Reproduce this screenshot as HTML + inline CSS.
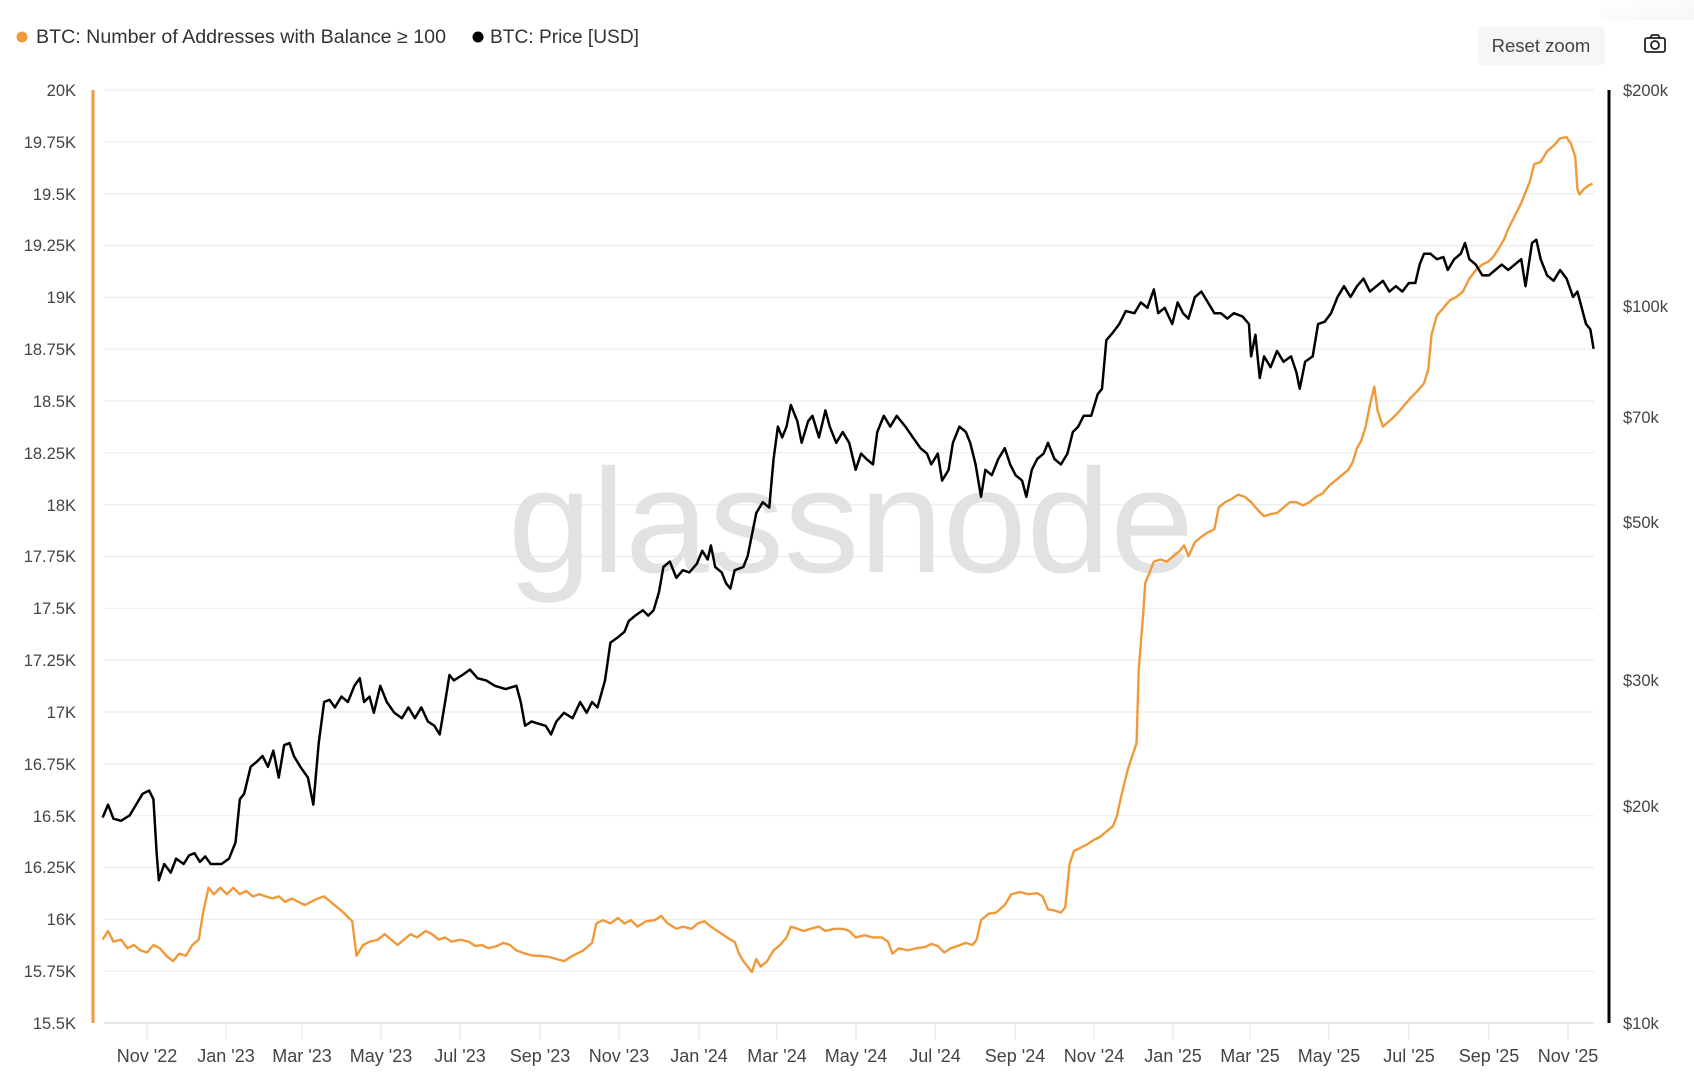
<!DOCTYPE html>
<html><head><meta charset="utf-8"><style>
html,body{margin:0;padding:0;background:#fff;}
svg{display:block;font-family:"Liberation Sans",sans-serif;}
</style></head><body>
<svg width="1694" height="1080" viewBox="0 0 1694 1080">
<defs><linearGradient id="sh" x1="0" y1="0" x2="1" y2="1"><stop offset="0" stop-color="#fff"/><stop offset="1" stop-color="#f0f0f0"/></linearGradient></defs>
<rect x="1600" y="0" width="94" height="20" fill="url(#sh)" opacity="0.6"/>
<!-- legend -->
<circle cx="22" cy="37" r="5.5" fill="#f0993a"/>
<text x="36" y="43" font-size="19" fill="#333" textLength="410" lengthAdjust="spacingAndGlyphs">BTC: Number of Addresses with Balance ≥ 100</text>
<circle cx="478" cy="37" r="5.5" fill="#000"/>
<text x="490" y="43" font-size="19" fill="#333" textLength="149" lengthAdjust="spacingAndGlyphs">BTC: Price [USD]</text>
<rect x="1478" y="27" width="127" height="38" rx="5" fill="#f4f6f8"/>
<text x="1541" y="52" font-size="18.5" fill="#444" text-anchor="middle">Reset zoom</text>
<g fill="none" stroke="#222" stroke-width="1.8"><rect x="1645" y="38" width="20" height="14" rx="2"/><circle cx="1655" cy="45" r="4"/><path d="M1650 38 l2 -3 h6 l2 3"/></g>
<!-- grid -->
<g stroke="#ececec" stroke-width="1.2">
<line x1="104" x2="1594" y1="90" y2="90"/><line x1="104" x2="1594" y1="141.8" y2="141.8"/><line x1="104" x2="1594" y1="193.7" y2="193.7"/><line x1="104" x2="1594" y1="245.5" y2="245.5"/><line x1="104" x2="1594" y1="297.3" y2="297.3"/><line x1="104" x2="1594" y1="349.2" y2="349.2"/><line x1="104" x2="1594" y1="401" y2="401"/><line x1="104" x2="1594" y1="452.8" y2="452.8"/><line x1="104" x2="1594" y1="504.7" y2="504.7"/><line x1="104" x2="1594" y1="556.5" y2="556.5"/><line x1="104" x2="1594" y1="608.3" y2="608.3"/><line x1="104" x2="1594" y1="660.2" y2="660.2"/><line x1="104" x2="1594" y1="712" y2="712"/><line x1="104" x2="1594" y1="763.8" y2="763.8"/><line x1="104" x2="1594" y1="815.7" y2="815.7"/><line x1="104" x2="1594" y1="867.5" y2="867.5"/><line x1="104" x2="1594" y1="919.3" y2="919.3"/><line x1="104" x2="1594" y1="971.2" y2="971.2"/>
</g>
<line x1="104" x2="1594" y1="1023" y2="1023" stroke="#ddd" stroke-width="1.5"/>
<g stroke="#e6e6e6" stroke-width="1.2">
<line x1="147" x2="147" y1="1023" y2="1040"/><line x1="226" x2="226" y1="1023" y2="1040"/><line x1="302" x2="302" y1="1023" y2="1040"/><line x1="381" x2="381" y1="1023" y2="1040"/><line x1="460" x2="460" y1="1023" y2="1040"/><line x1="540" x2="540" y1="1023" y2="1040"/><line x1="619" x2="619" y1="1023" y2="1040"/><line x1="699" x2="699" y1="1023" y2="1040"/><line x1="777" x2="777" y1="1023" y2="1040"/><line x1="856" x2="856" y1="1023" y2="1040"/><line x1="935" x2="935" y1="1023" y2="1040"/><line x1="1015" x2="1015" y1="1023" y2="1040"/><line x1="1094" x2="1094" y1="1023" y2="1040"/><line x1="1173" x2="1173" y1="1023" y2="1040"/><line x1="1250" x2="1250" y1="1023" y2="1040"/><line x1="1329" x2="1329" y1="1023" y2="1040"/><line x1="1409" x2="1409" y1="1023" y2="1040"/><line x1="1489" x2="1489" y1="1023" y2="1040"/><line x1="1568" x2="1568" y1="1023" y2="1040"/>
</g>
<line x1="93" x2="93" y1="90" y2="1023" stroke="#f0993a" stroke-width="3"/>
<line x1="1609" x2="1609" y1="90" y2="1023" stroke="#000" stroke-width="3"/>
<!-- left labels -->
<g font-size="16.5" fill="#444" text-anchor="end">
<text x="76" y="96">20K</text><text x="76" y="148">19.75K</text><text x="76" y="200">19.5K</text><text x="76" y="251">19.25K</text><text x="76" y="303">19K</text><text x="76" y="355">18.75K</text><text x="76" y="407">18.5K</text><text x="76" y="459">18.25K</text><text x="76" y="511">18K</text><text x="76" y="562">17.75K</text><text x="76" y="614">17.5K</text><text x="76" y="666">17.25K</text><text x="76" y="718">17K</text><text x="76" y="770">16.75K</text><text x="76" y="822">16.5K</text><text x="76" y="873">16.25K</text><text x="76" y="925">16K</text><text x="76" y="977">15.75K</text><text x="76" y="1029">15.5K</text>
</g>
<g font-size="16.5" fill="#444">
<text x="1623" y="96">$200k</text><text x="1623" y="312">$100k</text><text x="1623" y="423">$70k</text><text x="1623" y="528">$50k</text><text x="1623" y="686">$30k</text><text x="1623" y="812">$20k</text><text x="1623" y="1029">$10k</text>
</g>
<g font-size="18" fill="#444" text-anchor="middle">
<text x="147" y="1062">Nov '22</text><text x="226" y="1062">Jan '23</text><text x="302" y="1062">Mar '23</text><text x="381" y="1062">May '23</text><text x="460" y="1062">Jul '23</text><text x="540" y="1062">Sep '23</text><text x="619" y="1062">Nov '23</text><text x="699" y="1062">Jan '24</text><text x="777" y="1062">Mar '24</text><text x="856" y="1062">May '24</text><text x="935" y="1062">Jul '24</text><text x="1015" y="1062">Sep '24</text><text x="1094" y="1062">Nov '24</text><text x="1173" y="1062">Jan '25</text><text x="1250" y="1062">Mar '25</text><text x="1329" y="1062">May '25</text><text x="1409" y="1062">Jul '25</text><text x="1489" y="1062">Sep '25</text><text x="1568" y="1062">Nov '25</text>
</g>
<text x="508" y="572" font-size="148" fill="#e2e2e2" textLength="686" lengthAdjust="spacingAndGlyphs">glassnode</text>
<g transform="scale(1.0804,1.08)" fill="none" stroke-linejoin="round">
<polyline stroke="#f0993a" stroke-width="2.2" points="95,870 100,862 105,872 112,870 118,878 124,875 130,880 136,882 142,875 148,878 154,885 160,890 166,883 172,885 178,875 184,870 188,845 193,822 198,828 204,822 210,828 216,822 222,828 228,825 234,830 240,828 246,830 252,832 258,830 264,835 270,832 276,835 282,838 288,835 294,832 300,830 306,835 312,840 318,845 326,853 330,885 336,875 342,872 350,870 356,865 362,870 368,875 374,870 380,865 386,868 394,862 400,865 406,870 412,868 418,872 426,870 434,872 440,876 446,875 452,878 460,876 466,873 472,875 478,880 486,883 494,885 500,885 508,886 515,888 522,890 530,885 540,880 548,873 552,855 558,852 565,855 572,850 578,855 584,852 590,858 598,853 606,852 612,848 618,855 626,860 632,858 640,860 646,855 652,853 658,858 664,862 670,866 676,870 680,872 684,883 688,890 692,895 696,900 700,888 704,895 710,890 716,880 722,875 728,868 732,858 738,860 744,862 750,860 758,858 764,862 772,860 780,860 786,862 792,868 800,866 808,868 816,868 822,872 826,883 832,878 840,880 848,878 856,877 862,874 868,876 874,882 880,878 886,876 894,873 900,875 904,870 908,852 915,846 922,845 930,838 936,828 944,826 952,828 960,827 965,830 970,842 976,843 982,845 986,840 990,800 994,788 1000,785 1006,782 1012,778 1018,775 1024,770 1030,765 1034,755 1036,745 1040,728 1044,712 1048,700 1052,688 1054,620 1056,595 1058,570 1060,540 1064,530 1068,520 1074,518 1080,520 1086,515 1092,510 1096,505 1100,515 1106,502 1112,497 1118,493 1124,490 1128,470 1134,465 1140,462 1146,458 1152,460 1158,465 1164,472 1170,478 1176,476 1182,475 1188,470 1194,465 1200,465 1206,468 1212,465 1218,460 1224,457 1230,450 1236,445 1242,440 1248,435 1252,428 1256,415 1260,408 1264,395 1268,375 1272,358 1275,380 1280,395 1288,388 1294,382 1300,375 1306,368 1312,362 1318,355 1322,342 1325,310 1330,292 1336,285 1342,278 1348,275 1354,270 1360,258 1366,250 1372,245 1378,242 1382,238 1386,232 1392,222 1396,212 1402,200 1408,188 1412,178 1416,168 1420,152 1426,150 1432,140 1438,135 1444,128 1450,127 1454,133 1458,145 1460,175 1462,180 1466,175 1470,172 1474,170"/>
<polyline stroke="#000" stroke-width="2.3" points="95,757 100,745 105,758 112,760 120,755 126,745 132,735 138,732 142,740 145,790 147,815 152,800 158,808 163,795 170,800 175,792 180,790 185,798 190,793 195,800 205,800 212,795 218,780 222,740 226,735 232,710 238,705 243,700 248,710 253,695 258,720 263,690 268,688 272,700 278,710 285,720 290,745 295,688 300,650 305,648 310,655 316,645 322,650 328,635 333,628 337,650 342,645 346,660 352,635 358,650 365,660 372,665 378,655 384,665 390,655 396,668 402,672 407,680 412,650 416,625 420,630 428,625 435,620 442,628 450,630 458,635 468,638 478,635 482,650 486,672 492,668 498,670 505,672 510,680 515,668 522,660 530,665 537,650 543,660 548,650 553,655 560,630 565,595 572,590 578,585 582,575 588,570 595,565 600,570 605,565 610,548 614,525 620,520 626,535 632,528 638,530 645,522 650,510 655,518 658,505 662,525 668,530 672,540 676,545 680,528 688,525 692,515 700,475 706,465 712,470 716,425 720,395 724,405 728,395 732,375 738,390 742,410 748,390 752,385 758,405 764,380 768,395 774,410 780,400 786,410 792,435 797,420 802,425 808,430 812,400 818,385 824,395 830,385 838,395 845,405 852,415 858,420 862,430 868,420 872,445 878,435 882,410 888,395 894,400 898,410 903,430 908,460 912,435 918,440 924,425 930,415 935,430 940,440 946,445 950,460 955,435 960,425 966,420 970,410 976,425 982,430 988,420 993,400 998,395 1003,385 1010,385 1016,365 1020,360 1024,315 1030,308 1036,300 1042,288 1050,290 1056,280 1062,285 1068,268 1072,290 1078,285 1085,300 1090,280 1095,290 1100,295 1106,275 1112,270 1118,280 1124,290 1130,290 1136,295 1142,290 1150,293 1156,300 1158,330 1162,310 1166,350 1170,330 1176,340 1182,325 1188,335 1195,330 1200,345 1203,360 1208,335 1215,330 1220,300 1226,298 1232,290 1238,275 1244,265 1250,275 1256,265 1262,258 1268,270 1274,265 1280,260 1286,270 1292,265 1298,270 1304,262 1310,262 1314,245 1318,235 1324,235 1330,240 1336,238 1340,250 1346,240 1352,235 1356,225 1360,240 1366,245 1372,255 1378,255 1384,250 1390,245 1396,250 1402,245 1408,240 1412,265 1418,225 1422,222 1426,240 1432,255 1438,260 1444,250 1450,258 1456,275 1460,270 1464,285 1468,300 1472,305 1475,323"/>
</g>
</svg>
</body></html>
